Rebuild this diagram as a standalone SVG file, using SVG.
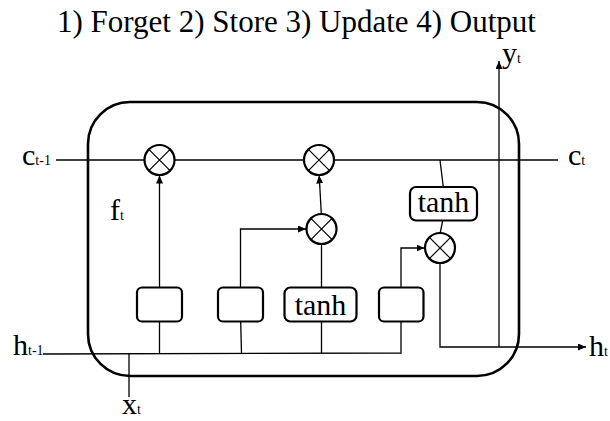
<svg xmlns="http://www.w3.org/2000/svg" width="610" height="421" viewBox="0 0 610 421" font-family="'Liberation Serif', 'Times New Roman', serif">
  <style>
    text { font-family: 'Liberation Serif', 'Times New Roman', serif; fill: #000; }
    .lbl { font-size: 30px; }
    .sub { font-size: 14px; }
    .title { font-size: 31px; }
    .conn { fill: none; stroke: #000; stroke-width: 1.3; }
    .arr { marker-end: url(#arrow); }
    .cell { fill: none; stroke: #000; stroke-width: 2.6; }
    .mult circle { fill: #fff; stroke: #000; stroke-width: 2.2; }
    .mult path { fill: none; stroke: #000; stroke-width: 1.2; }
    .gate rect { fill: #fff; stroke: #000; stroke-width: 2.2; }
    .gate text { font-size: 30px; text-anchor: middle; }
  </style>
  <defs>
    <marker id="arrow" markerUnits="userSpaceOnUse" markerWidth="9" markerHeight="8" refX="8" refY="3.5" orient="auto">
      <path d="M0,0 L8,3.5 L0,7 z" fill="#000"/>
    </marker>
  </defs>
  <rect width="610" height="421" fill="#fff"/>

  <text class="title" x="57" y="31.5" font-family="'Liberation Serif', 'Times New Roman', serif" font-size="31">1) Forget 2) Store 3) Update 4) Output</text>

  <g id="cell">
    <rect class="cell" x="88" y="102" width="431" height="274" rx="42" ry="42"/>
  </g>

  <g id="connectors">
    <path class="conn" d="M56,160 H558"/>
    <path class="conn" d="M43,354 L401,353 V321"/>
    <path class="conn" d="M129,353 V397"/>
    <path class="conn" d="M159.5,354 V321.5"/>
    <path class="conn arr" d="M159.5,287.5 V175.5"/>
    <path class="conn" d="M241.5,354 L240.7,321.5"/>
    <path class="conn arr" d="M240.5,287.5 V229 H306"/>
    <path class="conn" d="M321.5,354 V321.5"/>
    <path class="conn" d="M321.5,287.5 V244"/>
    <path class="conn arr" d="M321.3,213.5 L319.2,175.5"/>
    <path class="conn arr" d="M401,287.5 V248 H424.5"/>
    <path class="conn" d="M440,160 L443.3,187"/>
    <path class="conn" d="M442.7,220.5 L440.3,232.5"/>
    <path class="conn arr" d="M440,263 V347 H586"/>
    <path class="conn arr" d="M499,347 V61"/>
  </g>

  <g id="mult1" class="mult">
    <circle cx="159.5" cy="160" r="15"/>
    <path d="M148.9,149.4 L170.1,170.6 M170.1,149.4 L148.9,170.6"/>
  </g>
  <g id="mult2" class="mult">
    <circle cx="319" cy="160" r="15"/>
    <path d="M308.4,149.4 L329.6,170.6 M329.6,149.4 L308.4,170.6"/>
  </g>
  <g id="mult3" class="mult">
    <circle cx="321.5" cy="229" r="15"/>
    <path d="M310.9,218.4 L332.1,239.6 M332.1,218.4 L310.9,239.6"/>
  </g>
  <g id="mult4" class="mult">
    <circle cx="440" cy="248" r="15"/>
    <path d="M429.4,237.4 L450.6,258.6 M450.6,237.4 L429.4,258.6"/>
  </g>

  <g id="gate-forget" class="gate">
    <rect x="137" y="287.5" width="45" height="34" rx="5"/>
  </g>
  <g id="gate-input" class="gate">
    <rect x="218" y="287.5" width="45" height="34" rx="5"/>
  </g>
  <g id="gate-candidate" class="gate">
    <rect x="284.5" y="287.5" width="72" height="34" rx="6"/>
    <text x="320.5" y="315" font-family="'Liberation Serif', 'Times New Roman', serif">tanh</text>
  </g>
  <g id="gate-output" class="gate">
    <rect x="379" y="287.5" width="44.5" height="34" rx="5"/>
  </g>
  <g id="tanh-out" class="gate">
    <rect x="410" y="187" width="67" height="33.5" rx="6"/>
    <text x="443.5" y="212" font-family="'Liberation Serif', 'Times New Roman', serif">tanh</text>
  </g>

  <g id="labels" font-family="'Liberation Serif', 'Times New Roman', serif">
    <text class="lbl" x="22" y="165">c<tspan class="sub">t-1</tspan></text>
    <text class="lbl" x="110" y="220">f<tspan class="sub">t</tspan></text>
    <text class="lbl" x="13" y="355">h<tspan class="sub">t-1</tspan></text>
    <text class="lbl" x="122" y="414">x<tspan class="sub">t</tspan></text>
    <text class="lbl" x="502" y="63">y<tspan class="sub">t</tspan></text>
    <text class="lbl" x="568" y="165">c<tspan class="sub">t</tspan></text>
    <text class="lbl" x="589" y="356">h<tspan class="sub">t</tspan></text>
  </g>
</svg>
